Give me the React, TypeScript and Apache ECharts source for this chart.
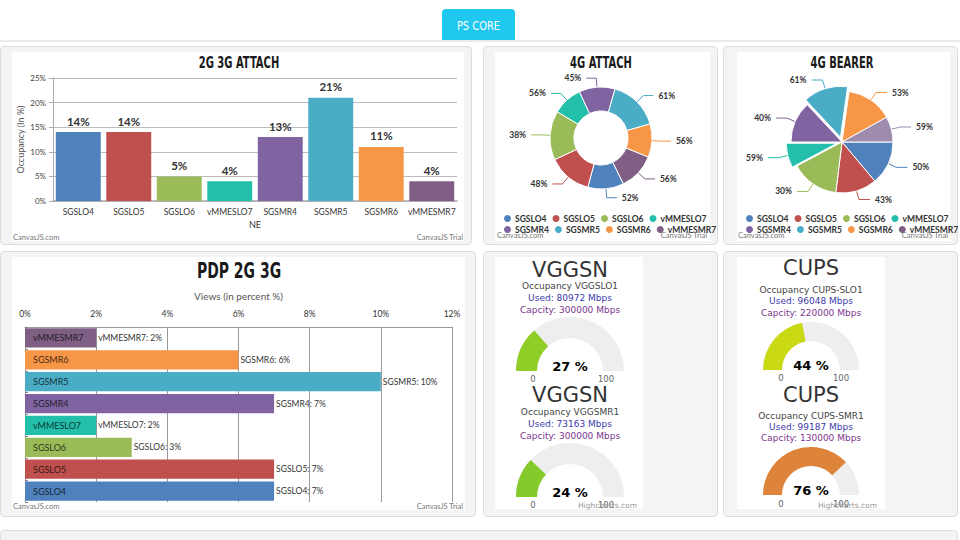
import React, { useEffect, useRef } from 'react';
import * as echarts from 'echarts';

// ---------- data ----------
const neNames = ['SGSLO4', 'SGSLO5', 'SGSLO6', 'vMMESLO7', 'SGSMR4', 'SGSMR5', 'SGSMR6', 'vMMESMR7'];
const neColors = ['#4F81BC', '#C0504E', '#9BBB58', '#23BFAA', '#8064A1', '#4AACC5', '#F79647', '#7F6084'];
const legendRow1 = ['SGSLO4', 'SGSLO5', 'SGSLO6', 'vMMESLO7'];
const legendRow2 = ['SGSMR4', 'SGSMR5', 'SGSMR6', 'vMMESMR7'];

const attach23Values = [14, 14, 5, 4, 13, 21, 11, 4];
const attach23Max = 25;
const attach23Interval = 5;

const attach4gLabels = [52, 48, 38, 56, 45, 61, 56, 56];
const attach4gShares = [41, 50, 56, 34, 41, 58, 38, 42];

const bearerLabels = [50, 43, 30, 59, 40, 61, 53, 59];
const bearerShares = [50, 47, 55, 28, 47, 51, 53, 29];
const bearerExploded = ['vMMESLO7', 'SGSMR5'];

const pdpValues = [7, 7, 3, 2, 7, 10, 6, 2];
const pdpMax = 12;
const pdpInterval = 2;

const gaugeTitles = ['VGGSN', 'VGGSN', 'CUPS', 'CUPS'];
const gaugeNodes = ['VGGSLO1', 'VGGSMR1', 'CUPS-SLO1', 'CUPS-SMR1'];
const gaugeUsed = [80972, 73163, 96048, 99187];
const gaugeCapacity = [300000, 300000, 220000, 130000];
const gaugePercent = [27, 24, 44, 76];
const gaugeColors = ['#8fcd27', '#85ca2b', '#c9da14', '#de843a'];
const gaugeRange = [0, 100];

// ---------- styling ----------
const BODY = "Lato, 'Open Sans', sans-serif";
const NARROW = "'DejaVu Sans Condensed', 'DejaVu Sans', sans-serif";
const GAUGE_FONT = "'DejaVu Sans', Verdana, sans-serif";

function darken(hex: string, f: number) {
  const n = parseInt(hex.slice(1), 16);
  const r = Math.round(((n >> 16) & 255) * f);
  const g = Math.round(((n >> 8) & 255) * f);
  const b = Math.round((n & 255) * f);
  return `rgb(${r},${g},${b})`;
}

function T(text: string, x: number, y: number, o: any = {}) {
  const align = o.align ?? 'left';
  return {
    type: 'text', x, y, z: 5, silent: true, scaleX: o.scaleX ?? 1,
    style: {
      text, fill: o.fill ?? '#333', fontSize: o.size ?? 9, fontFamily: o.family ?? BODY,
      fontWeight: o.weight ?? 'normal', textAlign: align, textVerticalAlign: 'middle',
      align, verticalAlign: 'middle',
    },
  };
}

function R(x: number, y: number, w: number, h: number, fill: string, stroke?: string, r: any = 4, z = -10) {
  return {
    type: 'rect', z, silent: true,
    shape: { x, y, width: w, height: h, r },
    style: { fill, stroke: stroke ?? 'none', lineWidth: 1 },
  };
}

const App: React.FC = () => {
  const ref = useRef<HTMLDivElement>(null);

  useEffect(() => {
    if (!ref.current) return;
    const chart = echarts.init(ref.current, undefined, { renderer: 'svg' });

    const panelFill = '#f4f4f4';
    const panelStroke = '#dcdcdc';
    const titleOpt = (size: number) => ({
      size, weight: 'bold', family: NARROW, align: 'center', fill: '#1a1a1a', scaleX: 0.74,
    });
    const graphics: any[] = [
      // header
      R(0, 40, 960, 2, '#ebebeb', undefined, 0),
      R(442, 9, 73, 31, '#1fc8ee', undefined, [4, 4, 0, 0]),
      T('PS CORE', 478.5, 26, { fill: '#ffffff', size: 12.5, family: NARROW, align: 'center', scaleX: 0.88 }),
      // row 1 panels
      R(0.5, 46.5, 471, 198, panelFill, panelStroke),
      R(12, 52, 452, 189, '#ffffff', undefined, 0, -9),
      R(483.5, 46.5, 234, 198, panelFill, panelStroke),
      R(495, 52, 215, 189, '#ffffff', undefined, 0, -9),
      R(723.5, 46.5, 234, 198, panelFill, panelStroke),
      R(737, 52, 213, 189, '#ffffff', undefined, 0, -9),
      // row 2 panels
      R(0.5, 251.5, 475, 265, panelFill, panelStroke),
      R(12, 257, 453, 253, '#ffffff', undefined, 0, -9),
      R(483.5, 251.5, 234, 265, panelFill, panelStroke),
      R(495, 257, 148, 252, '#ffffff', undefined, 0, -9),
      R(723.5, 251.5, 234, 265, panelFill, panelStroke),
      R(737, 257, 148, 252, '#ffffff', undefined, 0, -9),
      // row 3 panel
      R(0.5, 530.5, 957, 40, panelFill, panelStroke),
      // chart titles
      T('2G 3G ATTACH', 239, 63, titleOpt(15)),
      T('4G ATTACH', 601, 63, titleOpt(15)),
      T('4G BEARER', 842, 63, titleOpt(15)),
      T('PDP 2G 3G', 239, 271, titleOpt(21)),
      // watermarks
      T('CanvasJS.com', 13, 237, { size: 7.5, fill: '#777' }),
      T('CanvasJS Trial', 463, 237, { size: 7.5, fill: '#777', align: 'right' }),
      T('CanvasJS.com', 497, 235, { size: 7.5, fill: '#777' }),
      T('CanvasJS Trial', 707, 235, { size: 7.5, fill: '#777', align: 'right' }),
      T('CanvasJS.com', 738, 235, { size: 7.5, fill: '#777' }),
      T('CanvasJS Trial', 948, 235, { size: 7.5, fill: '#777', align: 'right' }),
      T('CanvasJS.com', 13, 506, { size: 7.5, fill: '#777' }),
      T('CanvasJS Trial', 463, 506, { size: 7.5, fill: '#777', align: 'right' }),
    ];

    // gauge layouts
    const gLayout = [
      { cx: 570, cy: 371, r: 54, w: 21, title: 270, occ: 286, used: 298, cap: 310, lab: 379, minX: 533, maxX: 606 },
      { cx: 570, cy: 497, r: 54, w: 21, title: 395, occ: 412, used: 424, cap: 436, lab: 505, minX: 533, maxX: 606 },
      { cx: 811, cy: 370, r: 48, w: 19, title: 268, occ: 290, used: 301, cap: 313, lab: 378, minX: 781, maxX: 841 },
      { cx: 811, cy: 495, r: 48, w: 19, title: 395, occ: 416, used: 427, cap: 438, lab: 504, minX: 781, maxX: 841 },
    ];
    gLayout.forEach((g, i) => {
      graphics.push(T(gaugeTitles[i], g.cx, g.title, { size: 21, family: GAUGE_FONT, align: 'center', fill: '#333' }));
      graphics.push(T(`Occupancy ${gaugeNodes[i]}`, g.cx, g.occ, { size: 9, family: GAUGE_FONT, align: 'center', fill: '#444' }));
      graphics.push(T(`Used: ${gaugeUsed[i]} Mbps`, g.cx, g.used, { size: 9, family: GAUGE_FONT, align: 'center', fill: '#3b3bab' }));
      graphics.push(T(`Capcity: ${gaugeCapacity[i]} Mbps`, g.cx, g.cap, { size: 9, family: GAUGE_FONT, align: 'center', fill: '#7d378f' }));
      graphics.push(T(String(gaugeRange[0]), g.minX, g.lab, { size: 8.5, family: GAUGE_FONT, align: 'center', fill: '#666' }));
      graphics.push(T(String(gaugeRange[1]), g.maxX, g.lab, { size: 8.5, family: GAUGE_FONT, align: 'center', fill: '#666' }));
    });
    graphics.push(T('Highcharts.com', 637, 505, { size: 7.5, family: GAUGE_FONT, align: 'right', fill: '#999' }));
    graphics.push(T('Highcharts.com', 877, 505, { size: 7.5, family: GAUGE_FONT, align: 'right', fill: '#999' }));

    const legendBase = {
      orient: 'horizontal', icon: 'circle', itemWidth: 9, itemHeight: 9, itemGap: 4,
      selectedMode: false, padding: 0,
      textStyle: { fontSize: 8.5, fontWeight: 'bold', color: '#333', fontFamily: BODY, width: 31, padding: [0, 0, 0, -2] },
    };

    const gaugeSeries = gLayout.map((g, i) => ({
      type: 'gauge',
      center: [g.cx, g.cy],
      radius: g.r,
      startAngle: 180,
      endAngle: 0,
      min: gaugeRange[0],
      max: gaugeRange[1],
      progress: { show: true, width: g.w, roundCap: false, itemStyle: { color: gaugeColors[i] } },
      axisLine: { lineStyle: { width: g.w, color: [[1, '#eeeeee']] } },
      pointer: { show: false },
      anchor: { show: false },
      axisTick: { show: false },
      splitLine: { show: false },
      axisLabel: { show: false },
      title: { show: false },
      detail: {
        offsetCenter: [0, -5], formatter: '{value} %', fontSize: 13, fontWeight: 'bold',
        color: '#000', fontFamily: GAUGE_FONT,
      },
      data: [{ value: gaugePercent[i], name: gaugeNodes[i] }],
    }));

    const option: any = {
      animation: false,
      graphic: { elements: graphics },
      legend: [
        { ...legendBase, left: 502, top: 213, data: legendRow1 },
        { ...legendBase, left: 502, top: 224, data: legendRow2 },
        { ...legendBase, left: 744, top: 213, data: legendRow1 },
        { ...legendBase, left: 744, top: 224, data: legendRow2 },
      ],
      grid: [
        { left: 53, right: 960 - 457, top: 78, bottom: 540 - 201, containLabel: false },
        { left: 25, right: 960 - 452, top: 327, bottom: 540 - 502, containLabel: false },
      ],
      xAxis: [
        {
          gridIndex: 0, type: 'category', data: neNames,
          axisLine: { lineStyle: { color: '#aaa', width: 1.5 } },
          axisTick: { alignWithLabel: true, length: 4, lineStyle: { color: '#aaa' } },
          axisLabel: { fontSize: 8.5, color: '#333', margin: 6, fontFamily: BODY, interval: 0 },
          name: 'NE', nameLocation: 'middle', nameGap: 19,
          nameTextStyle: { fontSize: 9, color: '#333', fontFamily: BODY },
        },
        {
          gridIndex: 1, type: 'value', position: 'top', min: 0, max: pdpMax, interval: pdpInterval,
          axisLine: { show: true, lineStyle: { color: '#999' } },
          axisTick: { show: false },
          axisLabel: { formatter: '{value}%', fontSize: 8.5, color: '#333', margin: 9, fontFamily: BODY },
          splitLine: { lineStyle: { color: '#999' } },
          name: 'Views (in percent %)', nameLocation: 'middle', nameGap: 26,
          nameTextStyle: { fontSize: 10, color: '#555', fontFamily: BODY },
        },
      ],
      yAxis: [
        {
          gridIndex: 0, type: 'value', min: 0, max: attach23Max, interval: attach23Interval,
          axisLine: { show: true, lineStyle: { color: '#aaa' } },
          axisTick: { show: true, length: 4, lineStyle: { color: '#aaa' } },
          axisLabel: { formatter: '{value}%', fontSize: 8, color: '#444', margin: 7, fontFamily: BODY },
          splitLine: { lineStyle: { color: '#bbb' } },
          name: 'Occupancy (In %)', nameLocation: 'middle', nameGap: 28,
          nameTextStyle: { fontSize: 9, color: '#555', fontFamily: BODY },
        },
        {
          gridIndex: 1, type: 'category', data: neNames,
          axisLine: { show: true, lineStyle: { color: '#999' } },
          axisTick: { show: true, inside: true, length: 3, lineStyle: { color: '#888' } },
          axisLabel: { show: false },
        },
      ],
      series: [
        {
          type: 'bar', xAxisIndex: 0, yAxisIndex: 0, barCategoryGap: '11%',
          data: attach23Values.map((v, i) => ({ value: v, itemStyle: { color: neColors[i] } })),
          label: {
            show: true, position: 'top', distance: 5, formatter: '{c}%', fontSize: 11.5,
            fontWeight: 'bold', color: '#333', fontFamily: BODY,
          },
        },
        {
          name: '4G ATTACH', type: 'pie', center: [601, 138], radius: [27, 51], startAngle: -64,
          clockwise: true, avoidLabelOverlap: false,
          itemStyle: { borderColor: '#fff', borderWidth: 1 },
          data: neNames.map((n, i) => ({ name: n, value: attach4gShares[i], itemStyle: { color: neColors[i] } })),
          label: {
            show: true, formatter: (p: any) => `${attach4gLabels[p.dataIndex]}%`, fontSize: 8.5,
            fontWeight: 'bold', color: '#333', fontFamily: BODY,
          },
          labelLine: { show: true, length: 9, length2: 10, lineStyle: { width: 1 } },
        },
        {
          name: '4G BEARER', type: 'pie', center: [842, 142], radius: 51, startAngle: 0,
          clockwise: true, avoidLabelOverlap: false, selectedMode: 'multiple', selectedOffset: 5,
          itemStyle: { borderColor: '#fff', borderWidth: 1 },
          data: neNames.map((n, i) => ({
            name: n, value: bearerShares[i], selected: bearerExploded.includes(n),
            itemStyle: { color: i === 7 ? '#9e8cad' : neColors[i] },
          })),
          label: {
            show: true, formatter: (p: any) => `${bearerLabels[p.dataIndex]}%`, fontSize: 8.5,
            fontWeight: 'bold', color: '#333', fontFamily: BODY,
          },
          labelLine: { show: true, length: 9, length2: 11, lineStyle: { width: 1 } },
        },
        {
          type: 'bar', xAxisIndex: 1, yAxisIndex: 1, barCategoryGap: '12%',
          data: pdpValues.map((v, i) => ({ value: v, itemStyle: { color: neColors[i] } })),
          label: {
            show: true, position: 'right', distance: 2, fontSize: 8.5, color: '#333', fontFamily: BODY,
            formatter: (p: any) => `${p.name}: ${p.value}%`,
          },
        },
        {
          type: 'bar', xAxisIndex: 1, yAxisIndex: 1, barCategoryGap: '12%', barGap: '-100%', silent: true,
          data: pdpValues.map((v, i) => ({
            value: v, itemStyle: { color: 'rgba(0,0,0,0)' },
            label: { color: darken(neColors[i], 0.3) },
          })),
          label: {
            show: true, position: 'insideLeft', distance: 8, fontSize: 9, fontFamily: BODY,
            formatter: '{b}',
          },
        },
        ...gaugeSeries,
      ],
    };

    chart.setOption(option);
    return () => chart.dispose();
  }, []);

  return (
    <div
      ref={ref}
      style={{ position: 'absolute', left: 0, top: 0, width: 960, height: 540, background: '#ffffff' }}
    />
  );
};

export default App;
